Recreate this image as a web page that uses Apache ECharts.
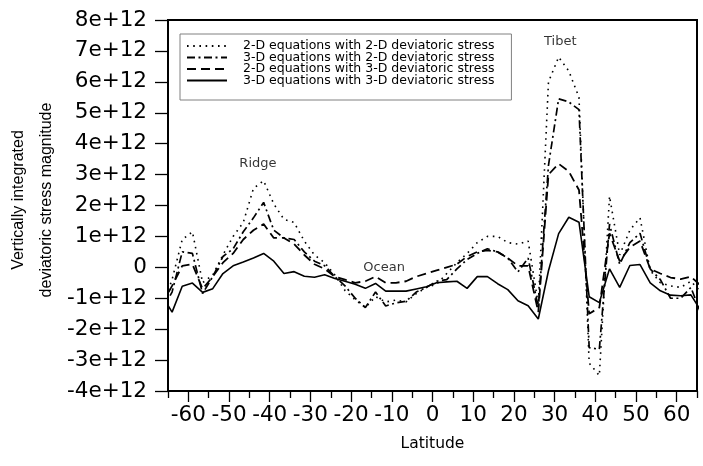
<!DOCTYPE html>
<html><head><meta charset="utf-8">
<script src="https://cdn.jsdelivr.net/npm/echarts@6/dist/echarts.min.js"></script>
<style>html,body{margin:0;padding:0;background:#fff}#c{width:703px;height:466px}</style>
</head><body><div id="c"></div>
<script>
// Latitudes of the model grid points (degrees)
const latitudes = [-66.5,-64,-61.5,-59,-56.5,-54,-51.5,-49,-46.5,-44,-41.5,-39,-36.5,-34,-31.5,-29,-26.5,-24,-21.5,-19,-16.5,-14,-11.5,-9,-6.5,-4,-1.5,1,3.5,6,8.5,11,13.5,16,18.5,21,23.5,26,28.5,31,33.5,36,38.5,41,43.5,46,48.5,51,53.5,56,58.5,61,63.5,66];
// values in units of 1e12
const eq2dStress2d = [-1.3,-0.4,0.9,1.15,-0.5,-0.25,0.4,1.0,1.45,2.55,2.8,2.05,1.55,1.45,0.85,0.4,0.15,-0.25,-0.75,-1.05,-1.3,-0.95,-1.12,-1.06,-1.12,-0.85,-0.65,-0.55,-0.2,0.15,0.45,0.8,1.0,1.0,0.8,0.75,0.85,-1.2,6.0,6.8,6.35,5.5,-3.1,-3.5,2.3,0.4,1.2,1.6,-0.1,-0.5,-0.6,-0.65,-0.45,-0.8];
const eq3dStress2d = [-1.4,-0.8,0.5,0.45,-0.85,-0.3,0.35,0.6,1.15,1.6,2.1,1.2,0.95,0.9,0.5,0.2,0.05,-0.3,-0.6,-1.0,-1.3,-0.8,-1.25,-1.15,-1.1,-0.8,-0.65,-0.45,-0.4,-0.05,0.25,0.45,0.6,0.5,0.3,-0.15,0.3,-1.3,3.3,5.45,5.35,5.1,-2.6,-2.65,1.4,0.1,0.8,1.1,-0.05,-0.4,-1.0,-1.0,-0.65,-1.5];
const eq2dStress3d = [-1.2,-0.6,0.05,0.1,-0.7,-0.3,0.15,0.45,0.9,1.2,1.4,0.95,0.95,0.75,0.4,0.1,-0.05,-0.3,-0.4,-0.5,-0.45,-0.3,-0.5,-0.5,-0.45,-0.3,-0.2,-0.1,0.0,0.1,0.35,0.5,0.55,0.5,0.3,0.05,0.05,-1.45,3.0,3.35,3.1,2.5,-1.5,-1.3,1.1,0.2,0.65,0.85,-0.05,-0.2,-0.33,-0.38,-0.3,-0.6];
const eq3dStress3d = [-0.9,-1.45,-0.61,-0.51,-0.81,-0.69,-0.2,0.05,0.17,0.3,0.45,0.2,-0.2,-0.14,-0.29,-0.32,-0.24,-0.36,-0.45,-0.55,-0.68,-0.52,-0.77,-0.77,-0.77,-0.7,-0.63,-0.5,-0.47,-0.45,-0.68,-0.3,-0.3,-0.53,-0.72,-1.08,-1.24,-1.67,-0.11,1.09,1.62,1.46,-0.95,-1.14,-0.05,-0.65,0.06,0.09,-0.5,-0.76,-0.9,-0.92,-0.89,-1.41];
const seriesNames = ['2-D equations with 2-D deviatoric stress','3-D equations with 2-D deviatoric stress','2-D equations with 3-D deviatoric stress','3-D equations with 3-D deviatoric stress'];
const xMajorTicks = [-60,-50,-40,-30,-20,-10,0,10,20,30,40,50,60];
const xMinorTicks = [-65,-55,-45,-35,-25,-15,-5,5,15,25,35,45,55,65];
const annotations = [{name:'Ridge', value:[-42.9,3.37]},{name:'Ocean', value:[-11.9,-0.02]},{name:'Tibet', value:[31.4,7.29]}];

const pair = arr => latitudes.map((l,i)=>[l, arr[i]]);
const styles = [
  {type:[1.6,4.6], width:1.6},
  {type:[8,3.5,2,3.5], width:1.7},
  {type:[9,5], width:1.8},
  {type:'solid', width:1.6}
];
const dataSets = [eq2dStress2d, eq3dStress2d, eq2dStress3d, eq3dStress3d];
const font = 'DejaVu Sans';
const chart = echarts.init(document.getElementById('c'));
chart.setOption({
  animation:false,
  backgroundColor:'#fff',
  grid:{left:168, right:6, top:20, bottom:75, show:true, borderColor:'#000', borderWidth:2, backgroundColor:'transparent'},
  legend:{
    data:seriesNames, orient:'vertical', left:180, top:34, itemWidth:40, itemHeight:9, itemGap:-1.5,
    padding:[5.5,17,13,6], borderColor:'#808080', borderWidth:1, backgroundColor:'#fff', selectedMode:false,
    itemStyle:{color:'rgba(0,0,0,0)', borderWidth:0, opacity:0},
    textStyle:{fontFamily:font, fontSize:12.5, lineHeight:12, color:'#000', padding:[0,0,0,11]}
  },
  xAxis:[{
    type:'value', min:-65, max:65, interval:5,
    axisLine:{show:true, onZero:false, lineStyle:{color:'#000', width:2}},
    axisTick:{show:true, length:11, customValues:xMajorTicks, lineStyle:{color:'#000', width:1.3}},
    axisLabel:{customValues:xMajorTicks, margin:13, fontFamily:font, fontSize:21.5, color:'#000', formatter:v=>String(v)},
    splitLine:{show:false},
    name:'Latitude', nameLocation:'middle', nameGap:45, nameTextStyle:{fontFamily:font, fontSize:15.5, color:'#000'}
  },{
    type:'value', min:-65, max:65, interval:5, position:'bottom', gridIndex:0,
    axisLine:{show:false, onZero:false},
    axisTick:{show:true, length:7, customValues:xMinorTicks, lineStyle:{color:'#000', width:1.3}},
    axisLabel:{show:false}, splitLine:{show:false}
  }],
  yAxis:{
    type:'value', min:-4, max:8, interval:1,
    axisLine:{show:true, onZero:false, lineStyle:{color:'#000', width:2}},
    axisTick:{show:true, length:13, lineStyle:{color:'#000', width:1.3}},
    axisLabel:{margin:21, fontFamily:font, fontSize:21.5, color:'#000', formatter:v=> v===0 ? '0' : v+'e+12'},
    splitLine:{show:false}
  },
  graphic:[
    {type:'text', x:18.5, y:200, rotation:Math.PI/2, style:{text:'Vertically integrated', font:'16px "Liberation Sans"', fill:'#000', textAlign:'center', textVerticalAlign:'middle'}},
    {type:'text', x:46.7, y:200, rotation:Math.PI/2, style:{text:'deviatoric stress magnitude', font:'16px "Liberation Sans"', fill:'#000', textAlign:'center', textVerticalAlign:'middle'}}
  ],
  series: seriesNames.map((n,i)=>({
    name:n, type:'line', data:pair(dataSets[i]), symbol:'none', showSymbol:false, smooth:false, clip:true,
    lineStyle:{color:'#000', width:styles[i].width, type:styles[i].type},
    itemStyle:{color:'#000'}, z:3
  })).concat([{
    name:'annotations', type:'scatter', data:annotations, symbolSize:1, silent:true,
    itemStyle:{color:'rgba(0,0,0,0)'},
    label:{show:true, position:'inside', formatter:p=>p.name, fontFamily:font, fontSize:13, color:'#000'}
  }])
});
</script></body></html>
